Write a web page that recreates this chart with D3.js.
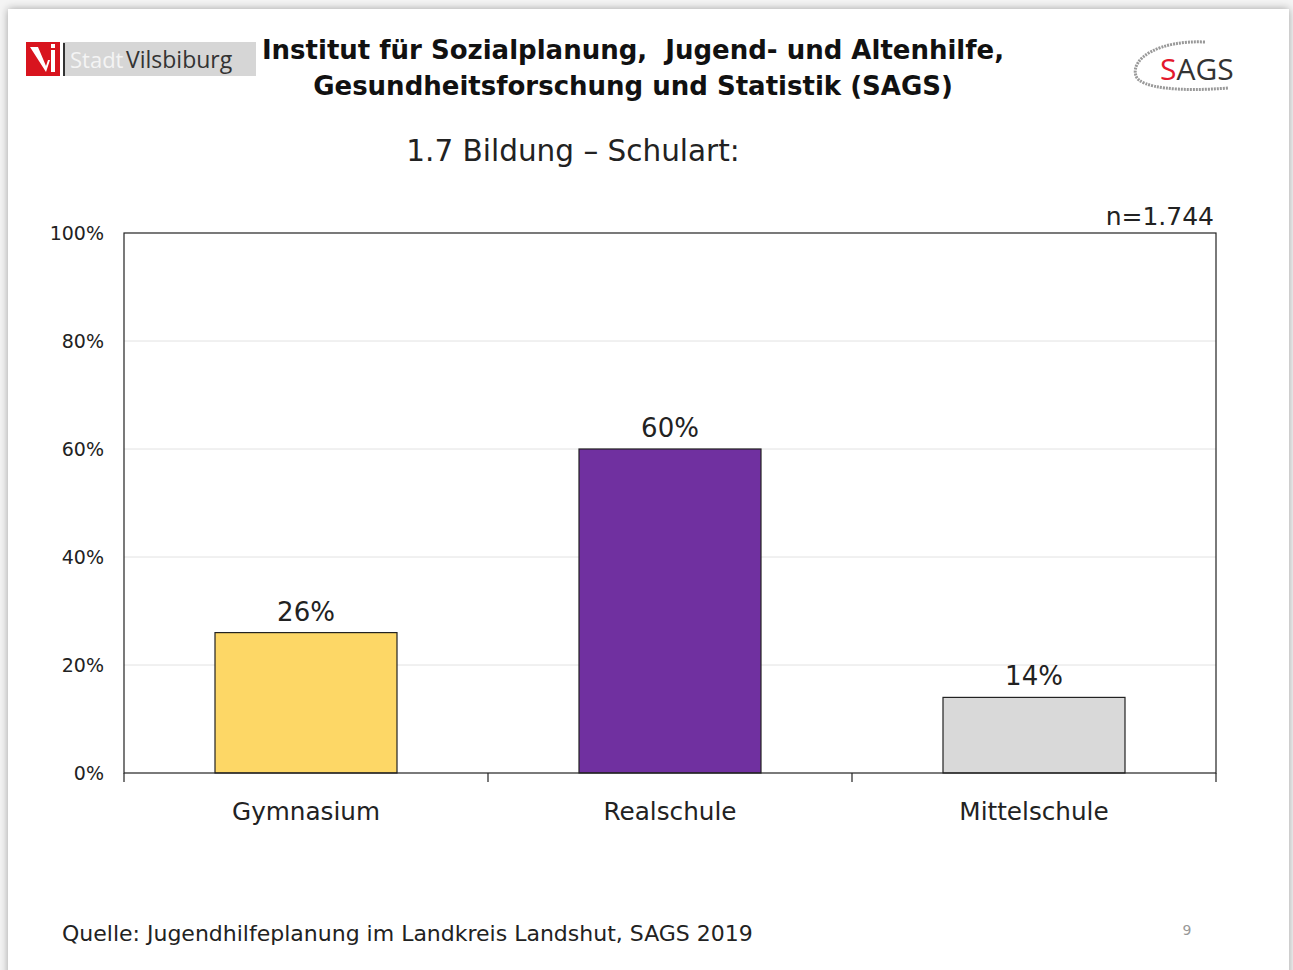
<!DOCTYPE html>
<html><head><meta charset="utf-8">
<script src="https://cdn.jsdelivr.net/npm/d3@7"></script>
<style>body{margin:0;background:#fff;}svg{display:block;}</style>
</head><body>
<svg id="chart" width="1293" height="970"></svg>
<script>
const categories = ["Gymnasium", "Realschule", "Mittelschule"];
const values = [26, 60, 14];
const colors = ["#FDD766", "#7030A0", "#D9D9D9"];
const yTicks = [0, 20, 40, 60, 80, 100];
const titleLines = ["Institut für Sozialplanung,  Jugend- und Altenhilfe,", "Gesundheitsforschung und Statistik (SAGS)"];
const subtitle = "1.7 Bildung – Schulart:";
const nLabel = "n=1.744";
const source = "Quelle: Jugendhilfeplanung im Landkreis Landshut, SAGS 2019";
const pageNo = "9";

const font = "DejaVu Sans, Verdana, sans-serif";
const svg = d3.select("#chart");

// slide background + shadow
const defs = svg.append("defs");
const f = defs.append("filter").attr("id","sh").attr("x","-5%").attr("y","-5%").attr("width","110%").attr("height","110%");
f.append("feGaussianBlur").attr("in","SourceAlpha").attr("stdDeviation",4);
f.append("feOffset").attr("dx",0).attr("dy",0);
f.append("feComponentTransfer").append("feFuncA").attr("type","linear").attr("slope",0.35);
const m = f.append("feMerge"); m.append("feMergeNode"); m.append("feMergeNode").attr("in","SourceGraphic");
svg.append("rect").attr("width",1293).attr("height",970).attr("fill","#f4f4f4");
svg.append("rect").attr("x",8).attr("y",9).attr("width",1281).attr("height",980).attr("fill","#fff").attr("filter","url(#sh)");

// Vilsbiburg logo
const lg = svg.append("g");
lg.append("rect").attr("x",63).attr("y",42).attr("width",193).attr("height",34).attr("fill","#d6d6d6");
lg.append("rect").attr("x",26).attr("y",42).attr("width",34).attr("height",34).attr("fill","#d8141e");
lg.append("path").attr("d","M30,47 L38,47 L46,66 L48,60 L50,60 L46,72 Z").attr("fill","#fff");
lg.append("rect").attr("x",51).attr("y",50).attr("width",4).attr("height",22).attr("fill","#fff");
lg.append("rect").attr("x",51).attr("y",44).attr("width",4).attr("height",4).attr("fill","#fff");
lg.append("rect").attr("x",63).attr("y",43).attr("width",2).attr("height",33).attr("fill","#333");
lg.append("text").attr("x",70).attr("y",68).attr("font-family","Open Sans, sans-serif").attr("font-size",22)
  .attr("fill","#f4f4f4").text("Stadt");
lg.append("text").attr("x",126).attr("y",68).attr("font-family","Open Sans, sans-serif").attr("font-size",23)
  .attr("fill","#333").text("Vilsbiburg");

// SAGS logo
const sg = svg.append("g");
sg.append("path").attr("d","M1205,42 C1160,40 1130,58 1136,76 C1140,88 1180,92 1228,88")
  .attr("fill","none").attr("stroke","#999").attr("stroke-width",3).attr("stroke-dasharray","2,1");
const st = sg.append("text").attr("x",1160).attr("y",80).attr("font-family","Open Sans, sans-serif").attr("font-size",30).attr("fill","#333");
st.append("tspan").attr("fill","#e3182d").text("S");
st.append("tspan").text("AGS");

// titles
svg.append("text").attr("x",633).attr("y",59).attr("text-anchor","middle").attr("font-family",font)
  .attr("font-weight","bold").attr("font-size",26).attr("fill","#111").style("white-space","pre").text(titleLines[0]);
svg.append("text").attr("x",633).attr("y",95).attr("text-anchor","middle").attr("font-family",font)
  .attr("font-weight","bold").attr("font-size",26).attr("fill","#111").text(titleLines[1]);
svg.append("text").attr("x",573).attr("y",161).attr("text-anchor","middle").attr("font-family",font)
  .attr("font-size",29.5).attr("fill","#222").text(subtitle);

// chart
const x0 = 124, x1 = 1216, yTop = 233, yBot = 773;
const x = d3.scaleBand().domain(categories).range([x0, x1]).paddingInner(0.5).paddingOuter(0.25);
const y = d3.scaleLinear().domain([0, 100]).range([yBot, yTop]);

const g = svg.append("g");
g.selectAll("line.grid").data(yTicks.filter(d => d > 0 && d < 100)).join("line")
  .attr("x1", x0).attr("x2", x1).attr("y1", d => y(d)).attr("y2", d => y(d))
  .attr("stroke", "#e2e2e2").attr("stroke-width", 1);

g.selectAll("rect.bar").data(values).join("rect")
  .attr("x", (d,i) => x(categories[i])).attr("y", d => y(d))
  .attr("width", x.bandwidth()).attr("height", d => yBot - y(d))
  .attr("fill", (d,i) => colors[i]).attr("stroke", "#222").attr("stroke-width", 1.2);

// frame
g.append("rect").attr("x", x0).attr("y", yTop).attr("width", x1 - x0).attr("height", yBot - yTop)
  .attr("fill", "none").attr("stroke", "#222").attr("stroke-width", 1.2);

// x-axis with category boundary ticks
const bounds = [x0].concat(categories.map(c => x(c) + x.bandwidth() + x.step()*x.paddingInner()/2));
bounds[bounds.length-1] = x1;
g.selectAll("line.xt").data(bounds).join("line")
  .attr("x1", d => d).attr("x2", d => d).attr("y1", yBot).attr("y2", yBot + 9)
  .attr("stroke", "#222").attr("stroke-width", 1.2);

const yAxis = d3.axisLeft(y).tickValues(yTicks).tickSize(0).tickPadding(20).tickFormat(d => d + "%");
const ya = g.append("g").attr("transform", `translate(${x0},0)`).call(yAxis);
ya.select(".domain").remove();
ya.selectAll("text").attr("font-family", font).attr("font-size", 19).attr("fill", "#222");

g.selectAll("text.cat").data(categories).join("text")
  .attr("x", d => x(d) + x.bandwidth()/2).attr("y", 820).attr("text-anchor", "middle")
  .attr("font-family", font).attr("font-size", 24.7).attr("fill", "#222").text(d => d);

g.selectAll("text.val").data(values).join("text")
  .attr("x", (d,i) => x(categories[i]) + x.bandwidth()/2).attr("y", d => y(d) - 12).attr("text-anchor", "middle")
  .attr("font-family", font).attr("font-size", 26).attr("fill", "#222").text(d => d + "%");

svg.append("text").attr("x", 1214).attr("y", 225).attr("text-anchor", "end")
  .attr("font-family", font).attr("font-size", 25).attr("fill", "#222").text(nLabel);

svg.append("text").attr("x", 62).attr("y", 941)
  .attr("font-family", font).attr("font-size", 22).attr("fill", "#222").text(source);
svg.append("text").attr("x", 1187).attr("y", 935).attr("text-anchor", "middle")
  .attr("font-family", font).attr("font-size", 14).attr("fill", "#999").text(pageNo);
</script>
</body></html>
